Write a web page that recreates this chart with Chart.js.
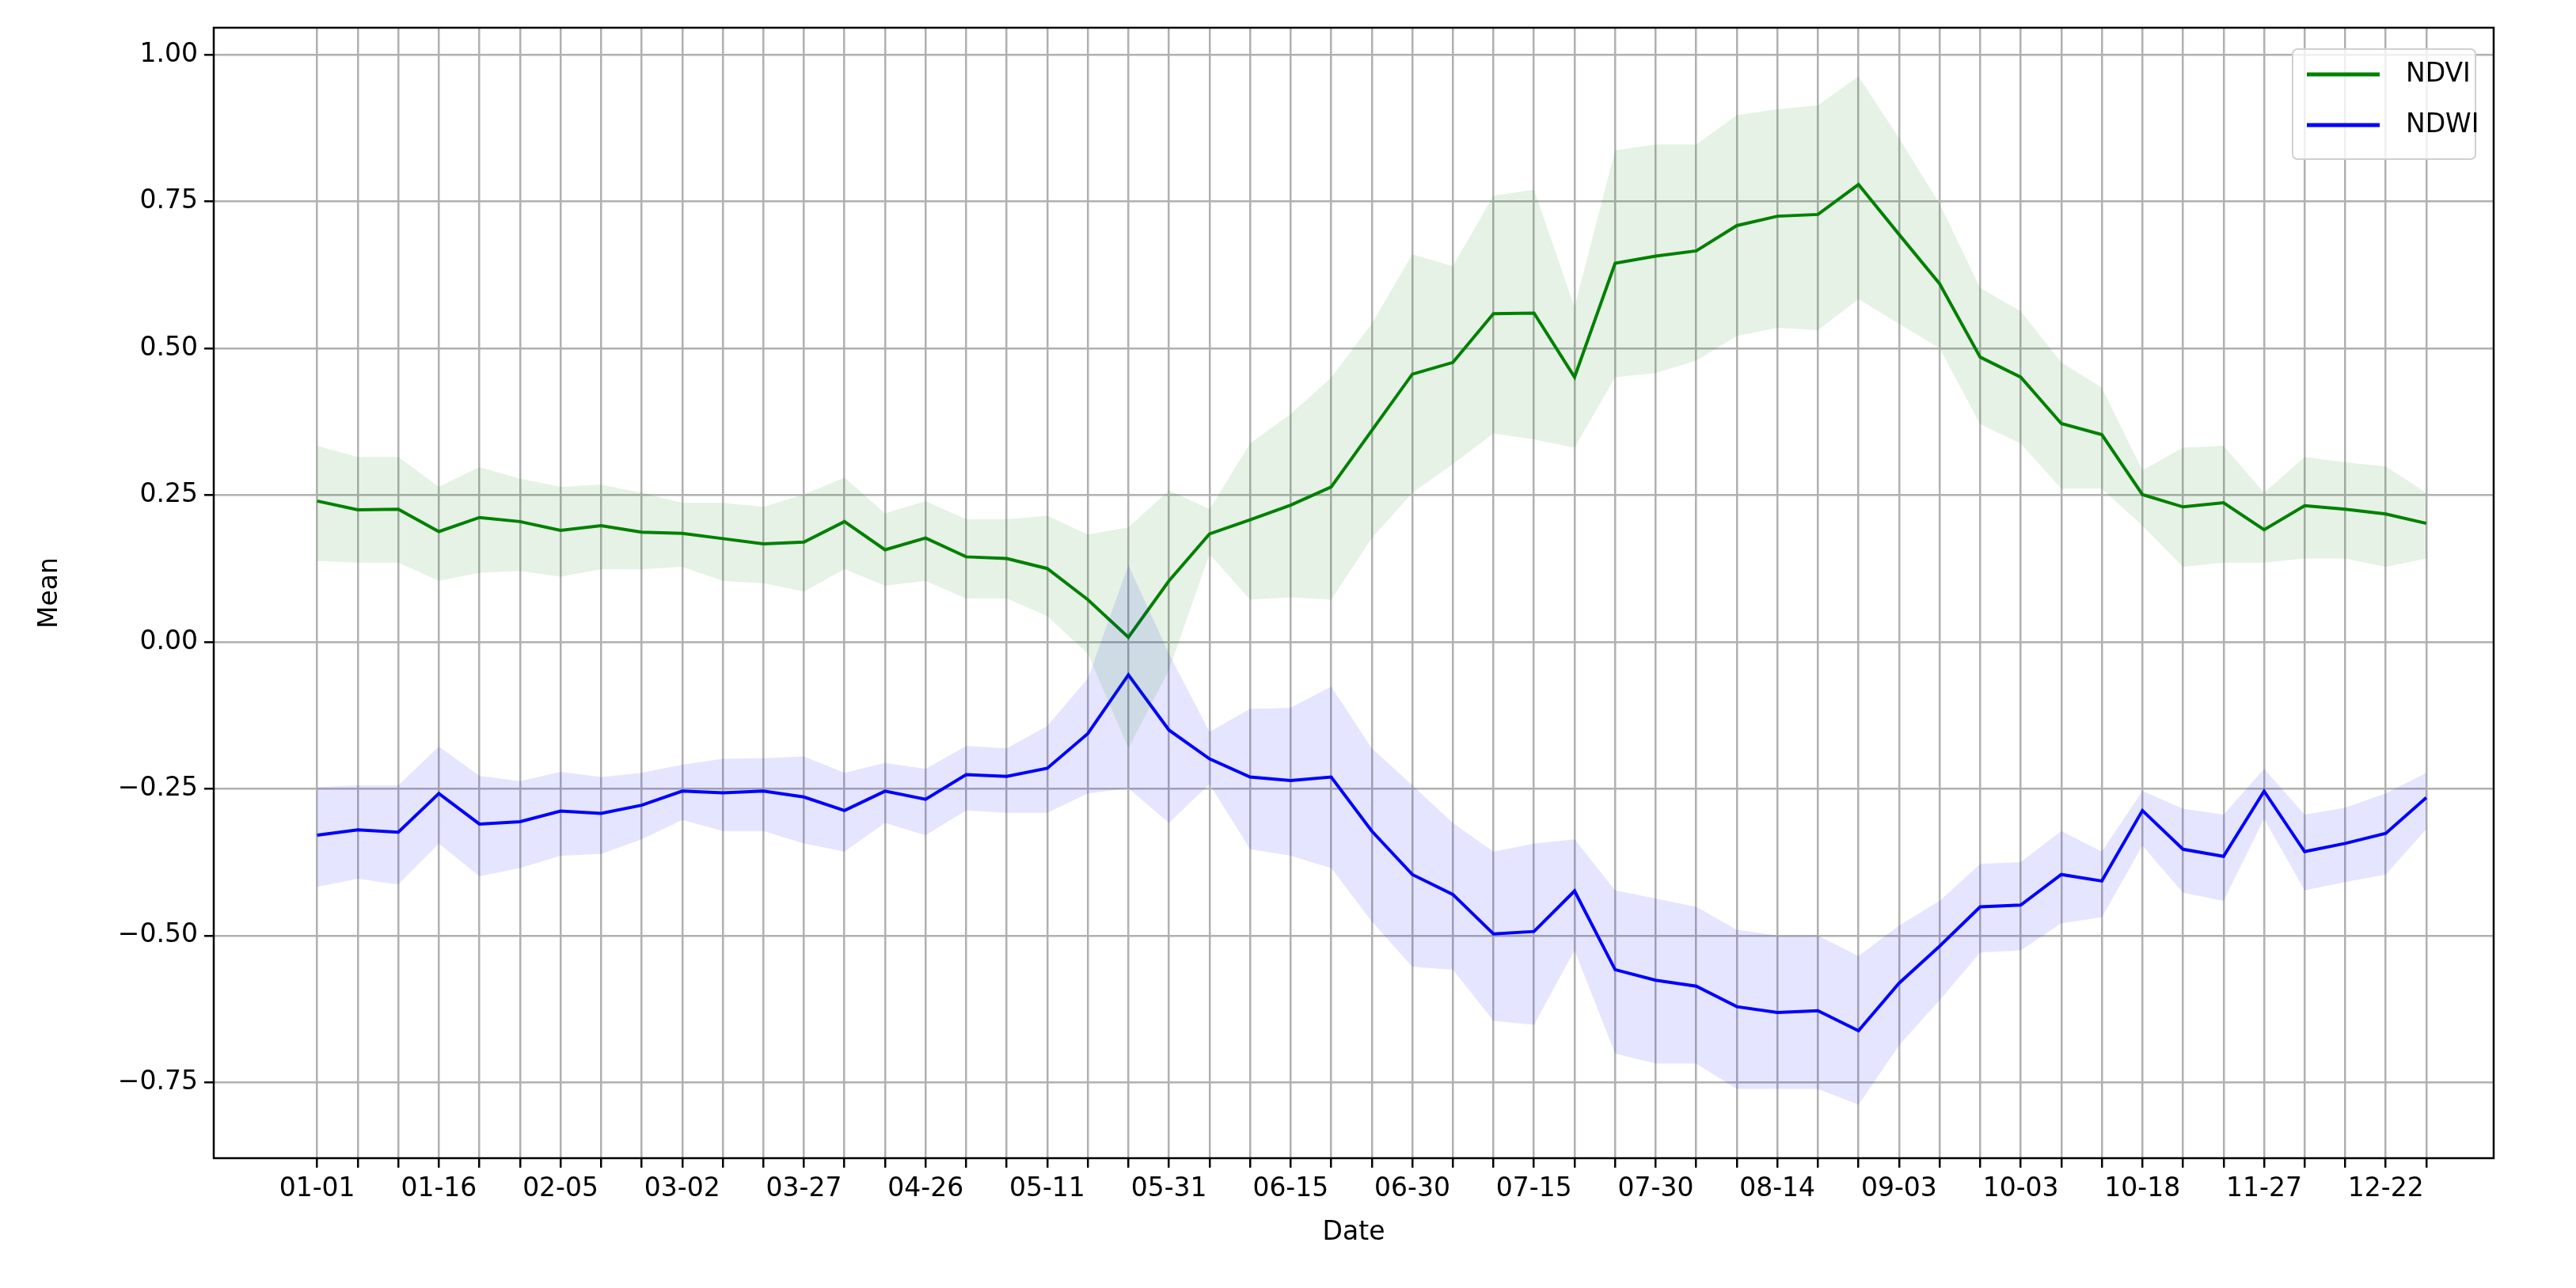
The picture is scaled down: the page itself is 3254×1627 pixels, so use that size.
<!DOCTYPE html>
<html><head><meta charset="utf-8">
<script src="https://cdn.jsdelivr.net/npm/chart.js@4/dist/chart.umd.min.js"></script>
<style>html,body{margin:0;padding:0;background:#fff}canvas{display:block}</style>
</head><body><canvas id="c" width="3254" height="1627"></canvas>
<script>
const tickLabels = {0:'01-01',3:'01-16',6:'02-05',9:'03-02',12:'03-27',15:'04-26',18:'05-11',21:'05-31',24:'06-15',27:'06-30',30:'07-15',33:'07-30',36:'08-14',39:'09-03',42:'10-03',45:'10-18',48:'11-27',51:'12-22'};
const yTicks = [-0.75,-0.5,-0.25,0,0.25,0.5,0.75,1.0];
const ndviMean = [0.240,0.225,0.226,0.188,0.212,0.205,0.190,0.198,0.187,0.185,0.176,0.167,0.170,0.205,0.157,0.177,0.145,0.142,0.125,0.072,0.008,0.104,0.184,0.208,0.233,0.264,0.36,0.456,0.476,0.559,0.560,0.451,0.645,0.657,0.666,0.709,0.725,0.728,0.779,0.694,0.610,0.485,0.451,0.372,0.353,0.251,0.230,0.237,0.191,0.232,0.226,0.218,0.202];
const ndviUpper = [0.334,0.315,0.315,0.264,0.298,0.278,0.264,0.268,0.254,0.237,0.237,0.230,0.251,0.28,0.219,0.24,0.209,0.209,0.215,0.183,0.195,0.258,0.226,0.338,0.388,0.45,0.542,0.66,0.64,0.76,0.77,0.57,0.837,0.847,0.847,0.897,0.907,0.914,0.963,0.858,0.746,0.603,0.563,0.476,0.433,0.292,0.331,0.334,0.254,0.315,0.306,0.299,0.254];
const ndviLower = [0.138,0.135,0.135,0.104,0.118,0.121,0.111,0.124,0.124,0.128,0.104,0.10,0.086,0.124,0.096,0.104,0.074,0.074,0.044,-0.02,-0.181,-0.048,0.15,0.072,0.076,0.072,0.177,0.254,0.303,0.355,0.345,0.331,0.451,0.458,0.479,0.521,0.535,0.531,0.584,0.542,0.5,0.371,0.338,0.261,0.261,0.198,0.128,0.135,0.135,0.142,0.142,0.128,0.142];
const ndwiMean = [-0.329,-0.320,-0.324,-0.258,-0.310,-0.306,-0.288,-0.292,-0.278,-0.254,-0.257,-0.254,-0.264,-0.287,-0.254,-0.268,-0.226,-0.229,-0.215,-0.156,-0.056,-0.150,-0.199,-0.230,-0.236,-0.230,-0.322,-0.396,-0.430,-0.497,-0.493,-0.424,-0.558,-0.576,-0.586,-0.621,-0.631,-0.628,-0.662,-0.581,-0.518,-0.451,-0.448,-0.396,-0.407,-0.287,-0.353,-0.365,-0.254,-0.357,-0.343,-0.326,-0.265];
const ndwiUpper = [-0.247,-0.244,-0.244,-0.178,-0.228,-0.237,-0.221,-0.230,-0.223,-0.209,-0.199,-0.198,-0.195,-0.223,-0.206,-0.216,-0.177,-0.181,-0.143,-0.062,0.131,-0.02,-0.153,-0.114,-0.112,-0.076,-0.181,-0.244,-0.308,-0.357,-0.343,-0.336,-0.423,-0.437,-0.451,-0.490,-0.500,-0.500,-0.535,-0.483,-0.441,-0.378,-0.375,-0.322,-0.357,-0.254,-0.284,-0.294,-0.216,-0.294,-0.282,-0.258,-0.223];
const ndwiLower = [-0.417,-0.403,-0.413,-0.343,-0.399,-0.385,-0.364,-0.361,-0.336,-0.303,-0.322,-0.322,-0.343,-0.357,-0.308,-0.329,-0.287,-0.291,-0.291,-0.258,-0.249,-0.308,-0.242,-0.353,-0.364,-0.385,-0.476,-0.553,-0.558,-0.645,-0.652,-0.525,-0.701,-0.718,-0.718,-0.761,-0.761,-0.761,-0.788,-0.687,-0.61,-0.529,-0.525,-0.479,-0.469,-0.347,-0.427,-0.441,-0.301,-0.423,-0.409,-0.396,-0.319];

const pts = a => a.map((v,i)=>({x:i,y:v}));
const FONT = 'DejaVu Sans';
const band = (data, color, fill) => ({data:pts(data), borderWidth:0, pointRadius:0, backgroundColor:color, fill:fill});
const datasets = [
  Object.assign(band(ndviUpper,'rgba(0,128,0,0.1)','+1'),{label:'_nu'}),
  Object.assign(band(ndviLower,'rgba(0,128,0,0.1)',false),{label:'_nl'}),
  Object.assign(band(ndwiUpper,'rgba(0,0,255,0.1)','+1'),{label:'_wu'}),
  Object.assign(band(ndwiLower,'rgba(0,0,255,0.1)',false),{label:'_wl'}),
  {label:'NDVI', data:pts(ndviMean), borderColor:'#008000', borderWidth:4, pointRadius:0, fill:false, tension:0},
  {label:'NDWI', data:pts(ndwiMean), borderColor:'#0000ff', borderWidth:4, pointRadius:0, fill:false, tension:0}
];

const framePlugin = {
  id:'frame',
  afterDraw(chart){
    const {ctx, chartArea:a} = chart;
    ctx.save();
    ctx.strokeStyle='#000'; ctx.lineWidth=2.5;
    ctx.strokeRect(a.left,a.top,a.right-a.left,a.bottom-a.top);
    const items = chart.data.datasets.filter(d=>!d.label.startsWith('_'));
    const w=231,h=139, x=a.right-254, y=a.top+27;
    ctx.fillStyle='rgba(255,255,255,0.8)'; ctx.strokeStyle='#d0d0d0'; ctx.lineWidth=2;
    ctx.beginPath(); ctx.roundRect(x,y,w,h,6); ctx.fill(); ctx.stroke();
    ctx.font='33px '+FONT; ctx.textBaseline='middle';
    items.forEach((d,i)=>{
      const yy=y+32+i*64;
      ctx.strokeStyle=d.borderColor; ctx.lineWidth=5;
      ctx.beginPath(); ctx.moveTo(x+18,yy); ctx.lineTo(x+110,yy); ctx.stroke();
      ctx.fillStyle='#000'; ctx.fillText(d.label,x+143,yy);
    });
    ctx.restore();
  }
};

new Chart(document.getElementById('c'), {
  type:'line',
  data:{datasets},
  plugins:[framePlugin],
  options:{
    responsive:false, animation:false, devicePixelRatio:1,
    layout:{padding:{left:40,right:104,top:35,bottom:50}},
    plugins:{legend:{display:false}, tooltip:{enabled:false}},
    scales:{
      x:{type:'linear', min:-2.55, max:53.66,
        afterBuildTicks(s){ s.ticks = ndviMean.map((_,i)=>({value:i})); },
        afterFit(s){ s.height = 1627-1463-50; },
        grid:{color:'#b0b0b0', lineWidth:2.5, tickLength:12, tickColor:'#000'},
        border:{display:false},
        ticks:{autoSkip:false, maxRotation:0, font:{family:FONT,size:33}, color:'#000', padding:8,
          callback:(v)=> tickLabels[v] || ''},
        title:{display:true, text:'Date', font:{family:FONT,size:33}, color:'#000', padding:{top:0,bottom:0}}
      },
      y:{min:-0.879, max:1.046,
        afterBuildTicks(s){ s.ticks = yTicks.map(v=>({value:v})); },
        afterFit(s){ s.width = 270-40; },
        grid:{color:'#b0b0b0', lineWidth:2.5, tickLength:12, tickColor:'#000'},
        border:{display:false},
        ticks:{font:{family:FONT,size:33}, color:'#000', padding:8,
          callback:(v)=> (v<0?'\u2212':'')+Math.abs(v).toFixed(2)},
        title:{display:true, text:'Mean', font:{family:FONT,size:33}, color:'#000', padding:{bottom:4}}
      }
    }
  }
});
</script></body></html>
